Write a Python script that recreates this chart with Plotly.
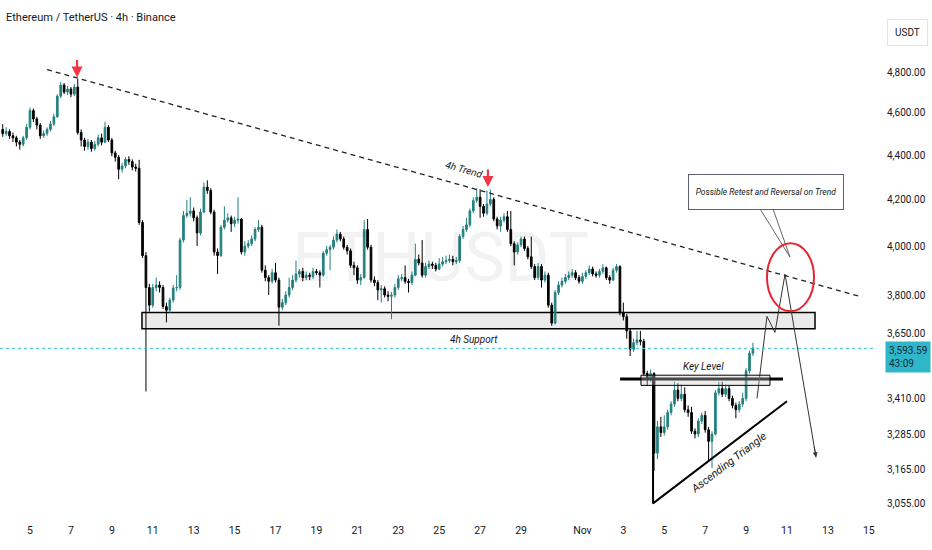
import numpy as np
import pandas as pd
import plotly.graph_objects as go

# ---------------- data (ETH/USDT 4h candles) ----------------
first_open = 4520
closes = [
    4500, 4510, 4490, 4480, 4460, 4450, 4480, 4530, 4610, 4570,
    4540, 4490, 4500, 4520, 4545, 4580, 4680, 4735, 4700, 4715,
    4690, 4725, 4505, 4470, 4440, 4460, 4430, 4450, 4480, 4460,
    4530, 4470, 4410, 4390, 4335, 4350, 4380, 4370, 4345, 4340,
    4100, 3960, 3830, 3760, 3830, 3840, 3830, 3755, 3740, 3780,
    3828, 3830, 4025, 4130, 4140, 4150, 4120, 4055, 4145, 4255,
    4240, 4145, 3975, 3960, 4080, 4110, 4120, 4095, 4110, 4115,
    3975, 4000, 4010, 4030, 4070, 4080, 3900, 3870, 3855, 3890,
    3860, 3752, 3770, 3800, 3830, 3860, 3885, 3895, 3870, 3880,
    3875, 3895, 3890, 3880, 3970, 3985, 3995, 4025, 4050, 4030,
    3995, 3980, 3920, 3910, 3860, 3870, 4070, 3995, 3860, 3850,
    3820, 3825, 3800, 3795, 3800, 3830, 3865, 3870, 3855, 3850,
    3880, 3945, 3930, 3880, 3915, 3925, 3920, 3905, 3925, 3935,
    3940, 3945, 3935, 3940, 4040, 4070, 4090, 4150, 4195, 4210,
    4170, 4140, 4180, 4200, 4115, 4085, 4110, 4125, 4070, 4010,
    3975, 4005, 4030, 3990, 3955, 3915, 3870, 3915, 3860, 3880,
    3760, 3690, 3810, 3840, 3855, 3870, 3880, 3890, 3870, 3855,
    3875, 3890, 3905, 3885, 3880, 3895, 3910, 3870, 3860, 3900,
    3915, 3730, 3715, 3660, 3590, 3615, 3625, 3620, 3500, 3480,
    3500, 3220, 3310, 3290, 3310, 3360, 3390, 3440, 3410, 3425,
    3370, 3360, 3295, 3285, 3330, 3350, 3300, 3260, 3285, 3430,
    3445, 3425, 3445, 3410, 3385, 3370, 3390, 3410, 3510, 3575,
    3594,
]
highs = [
    4545, 4530, 4520, 4505, 4490, 4470, 4490, 4545, 4625, 4620,
    4580, 4550, 4515, 4530, 4560, 4595, 4690, 4750, 4745, 4730,
    4725, 4740, 4765, 4520, 4480, 4475, 4470, 4465, 4495, 4500,
    4556, 4540, 4480, 4420, 4400, 4365, 4390, 4395, 4380, 4360,
    4378, 4110, 3975, 3845, 3845, 3870, 3855, 3840, 3770, 3790,
    3840, 3880, 4035, 4150, 4198, 4210, 4165, 4130, 4160, 4275,
    4285, 4250, 4155, 3990, 4090, 4170, 4140, 4130, 4125, 4210,
    4120, 4020, 4025, 4045, 4080, 4110, 4090, 3920, 3880, 3905,
    3930, 3870, 3785, 3815, 3870, 3880, 3940, 3905, 3910, 3895,
    3890, 3910, 3905, 3900, 3980, 4000, 4005, 4040, 4070, 4060,
    4040, 4005, 3990, 3935, 3920, 3885, 4110, 4115, 4005, 3875,
    3860, 3840, 3835, 3815, 3812, 3845, 3880, 3885, 3920, 3865,
    3895, 4010, 3965, 4025, 3930, 3940, 3935, 3930, 3950, 3955,
    3960, 3965, 3960, 3955, 4050, 4085, 4120, 4160, 4210, 4250,
    4245, 4180, 4240, 4245, 4210, 4125, 4125, 4140, 4150, 4150,
    4020, 4015, 4040, 4040, 4000, 4040, 3925, 3930, 3925, 3895,
    3890, 3770, 3820, 3855, 3870, 3885, 3895, 3905, 3900, 3880,
    3890, 3900, 3920, 3915, 3895, 3905, 3925, 3915, 3880, 3910,
    3925, 3920, 3770, 3725, 3670, 3630, 3660, 3660, 3630, 3510,
    3515, 3505, 3330, 3345, 3350, 3370, 3400, 3470, 3465, 3460,
    3450, 3385, 3380, 3305, 3340, 3360, 3365, 3310, 3295, 3440,
    3470, 3470, 3460, 3455, 3420, 3395, 3400, 3430, 3520, 3585,
    3615,
]
lows = [
    4485, 4490, 4475, 4460, 4440, 4425, 4440, 4470, 4520, 4555,
    4520, 4475, 4480, 4490, 4510, 4535, 4575, 4670, 4690, 4685,
    4675, 4680, 4495, 4440, 4420, 4425, 4415, 4420, 4440, 4445,
    4455, 4460, 4395, 4370, 4290, 4320, 4340, 4355, 4330, 4325,
    4090, 3950, 3435, 3735, 3750, 3815, 3810, 3745, 3693, 3730,
    3770, 3815, 3820, 4015, 4120, 4125, 4105, 4000, 4045, 4140,
    4225, 4135, 3960, 3885, 3955, 4070, 4100, 4060, 4080, 4095,
    3965, 3960, 3990, 4000, 4020, 4060, 3890, 3855, 3800, 3845,
    3850, 3680, 3740, 3760, 3790, 3820, 3850, 3870, 3855, 3860,
    3860, 3865, 3880, 3830, 3875, 3960, 3900, 3985, 4015, 4020,
    3985, 3965, 3910, 3880, 3845, 3840, 3865, 3985, 3850, 3835,
    3780, 3770, 3790, 3775, 3705, 3790, 3820, 3855, 3845, 3810,
    3840, 3875, 3920, 3870, 3870, 3905, 3905, 3895, 3900, 3915,
    3925, 3930, 3920, 3925, 3930, 4030, 4060, 4080, 4140, 4185,
    4120, 4125, 4130, 4170, 4105, 4070, 4060, 4100, 4060, 4000,
    3920, 3965, 3995, 3980, 3945, 3905, 3860, 3860, 3830, 3850,
    3750, 3680, 3685, 3800, 3830, 3845, 3860, 3870, 3860, 3845,
    3845, 3865, 3880, 3875, 3870, 3870, 3885, 3860, 3845, 3855,
    3890, 3720, 3700, 3630, 3565, 3580, 3605, 3605, 3490, 3455,
    3470, 3160, 3200, 3275, 3280, 3300, 3350, 3380, 3400, 3400,
    3360, 3345, 3285, 3270, 3275, 3320, 3290, 3195, 3170, 3280,
    3420, 3415, 3415, 3400, 3375, 3340, 3360, 3380, 3400, 3500,
    3565,
]
opens = [first_open] + closes[:-1]
times = pd.date_range("2025-10-03 16:00", periods=len(closes), freq="4h")

last_price = 3593.59
price_ticks = [4800, 4600, 4400, 4200, 4000, 3800, 3650, 3410, 3285, 3165, 3055]
price_tick_text = ["4,800.00", "4,600.00", "4,400.00", "4,200.00", "4,000.00",
                   "3,800.00", "3,650.00", "3,410.00", "3,285.00", "3,165.00", "3,055.00"]
date_ticks = ["2025-10-05", "2025-10-07", "2025-10-09", "2025-10-11", "2025-10-13",
              "2025-10-15", "2025-10-17", "2025-10-19", "2025-10-21", "2025-10-23",
              "2025-10-25", "2025-10-27", "2025-10-29", "2025-11-01", "2025-11-03",
              "2025-11-05", "2025-11-07", "2025-11-09", "2025-11-11", "2025-11-13",
              "2025-11-15"]
date_tick_text = ["5", "7", "9", "11", "13", "15", "17", "19", "21", "23", "25",
                  "27", "29", "Nov", "3", "5", "7", "9", "11", "13", "15"]

# ---------------- drawings (time, price) ----------------
trend_t = ["2025-10-05 20:00", "2025-11-14 16:00"]
trend_p = [4812, 3792]
support_t = ["2025-10-10 11:20", "2025-11-12 08:50"]
support_p = [3668, 3731]
keybox_t = ["2025-11-03 20:40", "2025-11-10 04:00"]
keybox_p = [3457, 3494]
keyline_t = ["2025-11-02 20:10", "2025-11-10 19:15"]
keyline_p = [3480, 3480]
tri_t = ["2025-11-04 10:50", "2025-11-04 10:50", "2025-11-11 00:00"]
tri_p = [3490, 3055, 3400]
proj_t = ["2025-11-09 12:45", "2025-11-10 00:30", "2025-11-10 09:50",
          "2025-11-10 21:40", "2025-11-12 10:00"]
proj_p = [3410, 3716, 3654, 3884, 3206]
callout_t = ["2025-11-09 16:20", "2025-11-11 03:30", "2025-11-10 07:30"]
callout_p = [4159, 3954, 4159]
circle_t = ["2025-11-10 00:30", "2025-11-12 07:40"]
circle_p = [3736, 4012]
arrow_t = ["2025-10-07 07:10", "2025-10-27 09:10"]
arrow_p = [4772, 4255]

FONT = "Roboto, Liberation Sans, sans-serif"
TXT = "#131722"
BULL = "#24807f"
BEAR = "#000000"

fig = go.Figure()

fig.add_trace(go.Candlestick(
    x=times, open=opens, high=highs, low=lows, close=closes,
    increasing=dict(line=dict(color=BULL, width=1), fillcolor=BULL),
    decreasing=dict(line=dict(color=BEAR, width=1), fillcolor=BEAR),
    showlegend=False, hoverinfo="skip",
))

fig.add_trace(go.Scatter(x=trend_t, y=trend_p, mode="lines",
                         line=dict(color="#222", width=1.3, dash="5px,4px"),
                         showlegend=False, hoverinfo="skip"))
fig.add_trace(go.Scatter(x=keyline_t, y=keyline_p, mode="lines",
                         line=dict(color="#000", width=3),
                         showlegend=False, hoverinfo="skip"))
fig.add_trace(go.Scatter(x=tri_t, y=tri_p, mode="lines",
                         line=dict(color="#000", width=2),
                         showlegend=False, hoverinfo="skip"))
fig.add_trace(go.Scatter(x=proj_t, y=proj_p, mode="lines",
                         line=dict(color="#333", width=1),
                         showlegend=False, hoverinfo="skip"))
fig.add_trace(go.Scatter(x=callout_t, y=callout_p, mode="lines",
                         line=dict(color="#666", width=1),
                         showlegend=False, hoverinfo="skip"))

shapes = [
    dict(type="rect", xref="x", yref="y", x0=support_t[0], x1=support_t[1],
         y0=support_p[0], y1=support_p[1], fillcolor="rgba(205,205,205,0.4)",
         line=dict(color="#000", width=1.5), layer="below"),
    dict(type="rect", xref="x", yref="y", x0=keybox_t[0], x1=keybox_t[1],
         y0=keybox_p[0], y1=keybox_p[1], fillcolor="rgba(200,200,200,0.35)",
         line=dict(color="#000", width=1), layer="above"),
    dict(type="circle", xref="x", yref="y", x0=circle_t[0], x1=circle_t[1],
         y0=circle_p[0], y1=circle_p[1], line=dict(color="#e8242f", width=2)),
    dict(type="line", xref="paper", yref="y", x0=0, x1=1, y0=last_price, y1=last_price,
         line=dict(color="#3fbfcf", width=1, dash="dot")),
]

L = np.log10
annotations = [
    dict(text="ETHUSDT", xref="paper", yref="paper", x=0.503, y=0.505, showarrow=False,
         font=dict(family=FONT, size=68, color="rgba(0,0,0,0.05)")),
    dict(text="Ethereum / TetherUS · 4h · Binance", xref="paper", yref="paper",
         x=0.004, y=0.982, xanchor="left", yanchor="top", showarrow=False,
         font=dict(family=FONT, size=11, color=TXT)),
    dict(text="<i>4h Trend</i>", x="2025-10-26 05:00", y=L(4335), textangle=15.5,
         showarrow=False, font=dict(family=FONT, size=10, color=TXT)),
    dict(text="<i>4h Support</i>", x="2025-10-26 16:50", y=L(3628), showarrow=False,
         font=dict(family=FONT, size=10, color=TXT)),
    dict(text="<i>Key Level</i>", x="2025-11-06 22:35", y=L(3527), showarrow=False,
         font=dict(family=FONT, size=10, color=TXT)),
    dict(text="<i>Ascending Triangle</i>", x="2025-11-08 04:00", y=L(3188),
         textangle=-37.5, showarrow=False, font=dict(family=FONT, size=11, color=TXT)),
    dict(text="<i>Possible Retest and Reversal on Trend</i>", x="2025-11-09 23:45",
         y=L(4233), showarrow=False, bgcolor="#ffffff", bordercolor="#5d606b",
         borderwidth=1, borderpad=7, width=140, height=20,
         font=dict(family=FONT, size=8.5, color=TXT)),
    dict(text="", x=proj_t[-1], y=L(proj_p[-1]), ax=-2, ay=-12, showarrow=True,
         arrowhead=2, arrowsize=1, arrowwidth=1, arrowcolor="#333"),
    dict(text="USDT", xref="paper", yref="paper", x=1, y=0.963, xanchor="left",
         xshift=12, showarrow=False, bgcolor="#ffffff", bordercolor="#e0e3eb",
         borderwidth=1, borderpad=7, font=dict(family=FONT, size=10, color=TXT)),
    dict(text="3,593.59<br>43:09", xref="paper", yref="y", x=1, y=L(last_price),
         xanchor="left", yanchor="top", yshift=7, xshift=10, align="left",
         showarrow=False, bgcolor="#2fb7c9", borderpad=3,
         font=dict(family=FONT, size=10, color="#0e2a3a")),
]
for t, p in zip(arrow_t, arrow_p):
    annotations.append(dict(text="", x=t, y=L(p), ax=0, ay=-19, showarrow=True,
                            arrowhead=2, arrowsize=1, arrowwidth=2.2,
                            arrowcolor="#f23645"))

fig.update_layout(
    width=932, height=550,
    margin=dict(l=0, r=57, t=0, b=28),
    paper_bgcolor="#ffffff", plot_bgcolor="#ffffff",
    font=dict(family=FONT, size=10, color=TXT),
    shapes=shapes, annotations=annotations,
    xaxis=dict(type="date", range=["2025-10-03 12:48", "2025-11-15 07:12"],
               rangeslider=dict(visible=False), showgrid=False, zeroline=False,
               tickvals=date_ticks, ticktext=date_tick_text, ticks="",
               tickfont=dict(family=FONT, size=10.5, color=TXT), showline=False),
    yaxis=dict(type="log", side="right", range=[L(2996), L(5176)],
               tickvals=price_ticks, ticktext=price_tick_text, showgrid=False,
               zeroline=False, ticks="", ticklabelstandoff=11,
               tickfont=dict(family=FONT, size=10, color=TXT), showline=False),
    hovermode=False,
)

fig.write_html("out.html", config={"displayModeBar": False},
               post_script="document.body.style.margin='0';")
